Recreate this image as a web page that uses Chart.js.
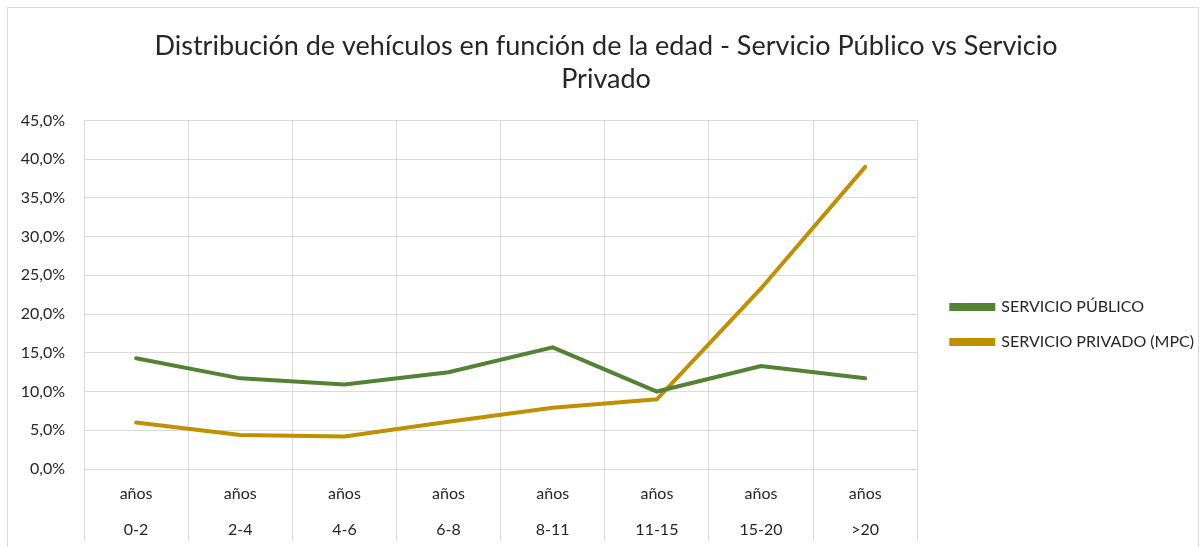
<!DOCTYPE html>
<html>
<head>
<meta charset="utf-8">
<script src="https://cdn.jsdelivr.net/npm/chart.js@4.4.0/dist/chart.umd.min.js"></script>
<style>
  body { margin: 0; background: #fff; }
  #frame { position: absolute; left: 7px; top: 7px; width: 1190px; height: 560px; border: 1px solid #d9d9d9; }
  #wrap { position: absolute; left: 8px; top: 8px; width: 1196px; height: 539px; }
</style>
</head>
<body>
<div id="frame"></div>
<div id="wrap"><canvas id="line-chart"></canvas></div>
<script>
var categories = [
    ["años", "0-2"], ["años", "2-4"], ["años", "4-6"], ["años", "6-8"],
    ["años", "8-11"], ["años", "11-15"], ["años", "15-20"], ["años", ">20"]
];
var publico = [14.3, 11.7, 10.9, 12.5, 15.7, 10.0, 13.3, 11.7];
var privado = [6.0, 4.4, 4.2, 6.1, 7.9, 9.0, 23.3, 39.0];

(function(Chart) {
    var font = "Lato, 'Open Sans', sans-serif";
    var grid = '#d9d9d9';
    var legendGap = 15;
    var legendDrop = 47;

    // leave some room between plot and legend, like excel does
    var legendShift = {
        id: 'legendShift',
        beforeInit: function(chart) {
            var fit = chart.legend.fit;
            chart.legend.fit = function() {
                fit.call(this);
                this.width += legendGap;
            };
        },
        afterLayout: function(chart) {
            chart.legend.left += legendGap;
            chart.legend.top += legendDrop;
            chart.legend.bottom += legendDrop;
        }
    };

    new Chart(document.getElementById('line-chart'), {
        type: 'line',
        data: {
            labels: categories,
            datasets: [{
                label: 'SERVICIO PÚBLICO',
                data: publico,
                borderColor: '#548235',
                backgroundColor: '#548235',
                borderWidth: 4,
                pointRadius: 0,
                borderCapStyle: 'round',
                tension: 0
            }, {
                label: 'SERVICIO PRIVADO (MPC)',
                data: privado,
                borderColor: '#bf9000',
                backgroundColor: '#bf9000',
                borderWidth: 4,
                pointRadius: 0,
                borderCapStyle: 'round',
                tension: 0
            }]
        },
        plugins: [legendShift],
        options: {
            responsive: true,
            maintainAspectRatio: false,
            animation: false,
            layout: { padding: 0 },
            plugins: {
                title: {
                    display: true,
                    text: ['Distribución de vehículos en función de la edad - Servicio Público vs Servicio', 'Privado'],
                    color: '#262626',
                    font: { family: font, size: 27, weight: 'normal', lineHeight: 1.22 },
                    padding: { top: 22, bottom: 24.5 }
                },
                legend: {
                    position: 'right',
                    labels: {
                        color: '#262626',
                        font: { family: font, size: 16 },
                        boxWidth: 42,
                        boxHeight: 4,
                        padding: 19
                    }
                },
                tooltip: { enabled: false }
            },
            scales: {
                x: {
                    offset: true,
                    grid: { color: grid, offset: true, drawTicks: true, tickLength: 72, tickColor: grid },
                    border: { color: grid },
                    afterFit: function(scale) { scale.height = 78; },
                    ticks: {
                        color: '#262626',
                        font: { family: font, size: 16, lineHeight: 2.3 },
                        padding: -66,
                        maxRotation: 0,
                        autoSkip: false
                    }
                },
                y: {
                    min: 0,
                    max: 45,
                    grid: { color: grid, drawTicks: false },
                    border: { display: false },
                    afterFit: function(scale) { scale.width = 76; },
                    ticks: {
                        stepSize: 5,
                        color: '#262626',
                        font: { family: font, size: 16 },
                        padding: 19,
                        callback: function(v) { return v.toFixed(1).replace('.', ',') + '%'; }
                    }
                }
            }
        }
    });
})(Chart);
</script>
</body>
</html>
